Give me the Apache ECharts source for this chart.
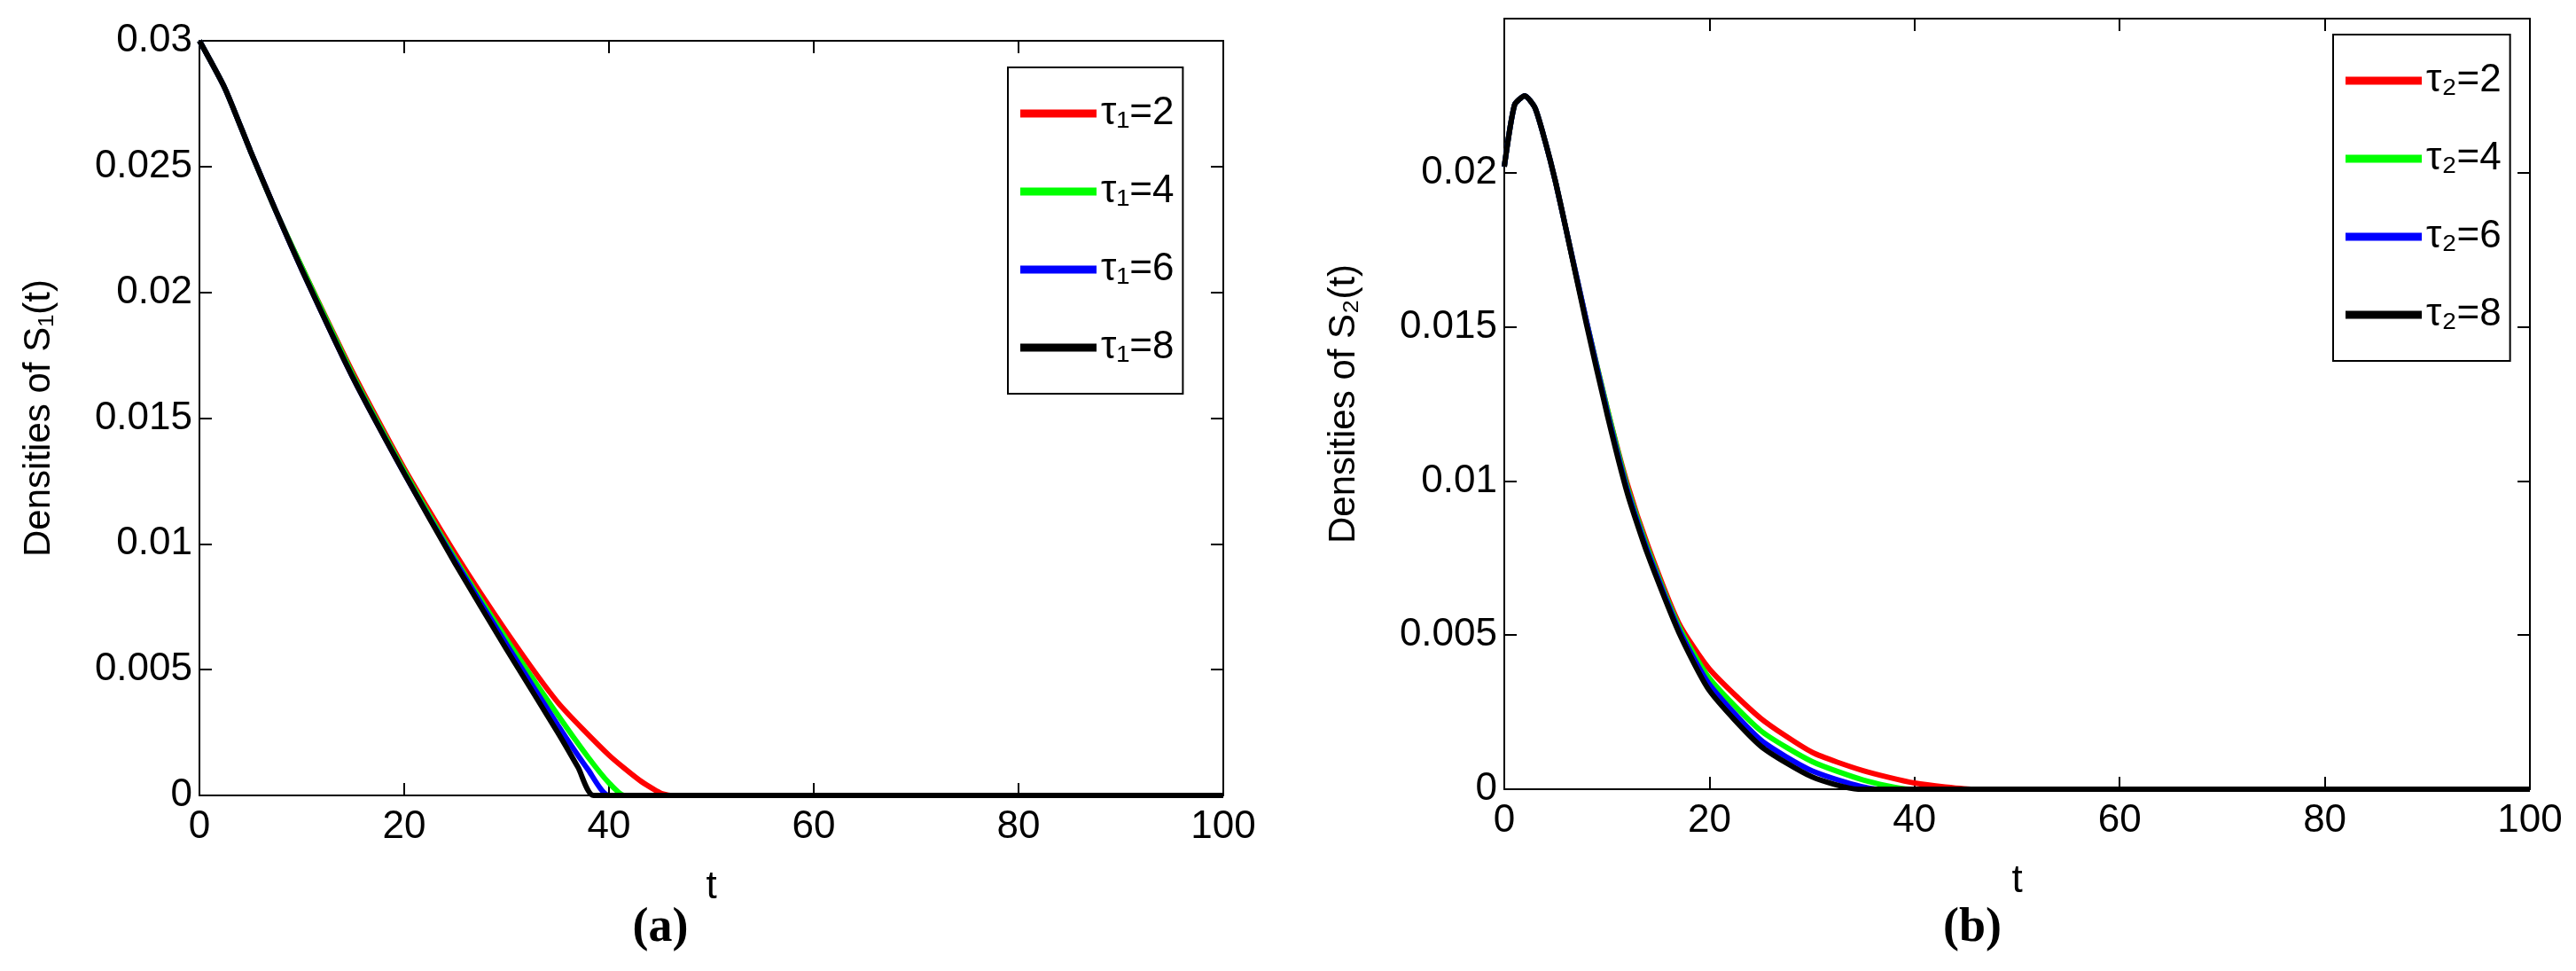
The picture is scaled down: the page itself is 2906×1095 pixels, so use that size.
<!DOCTYPE html>
<html><head><meta charset="utf-8">
<script src="https://cdn.jsdelivr.net/npm/echarts@6/dist/echarts.min.js"></script>
<style>html,body{margin:0;background:#fff}#c{width:2906px;height:1095px}</style>
</head><body><div id="c"></div>
<script>
const colors = ['#ff0000', '#00ff00', '#0000ff', '#000000'];
const namesA = ['τ₁=2', 'τ₁=4', 'τ₁=6', 'τ₁=8'];
const namesB = ['τ₂=2', 'τ₂=4', 'τ₂=6', 'τ₂=8'];

// panel (a): [t, S1]
const a_tau2 = [[0,0.030],[2.5,0.0281],[5,0.0256],[7.5,0.0232],[10,0.0210],[15,0.0168],[20,0.0130],[25,0.0096],[30,0.0065],[35,0.0037],[40,0.0016],[43,0.0006],[45,0.0001],[46,0],[100,0]];
const a_tau4 = [[0,0.030],[2.5,0.0281],[5,0.0256],[7.5,0.0232],[10,0.0210],[15,0.0167],[20,0.0129],[25,0.0094],[30,0.0062],[35,0.0032],[38,0.0015],[40,0.0005],[41.5,0],[100,0]];
const a_tau6 = [[0,0.030],[2.5,0.0281],[5,0.0256],[7.5,0.0232],[10,0.0209],[15,0.0166],[20,0.0128],[25,0.0093],[30,0.0060],[35,0.0028],[38,0.0010],[40,0],[100,0]];
const a_tau8 = [[0,0.030],[2.5,0.0281],[5,0.0256],[7.5,0.0232],[10,0.0209],[15,0.0166],[20,0.0128],[25,0.0092],[30,0.0058],[35,0.0025],[37,0.0011],[38.5,0],[100,0]];

// panel (b): [t, S2]
const b_tau2 = [[0,0.0202],[1,0.0222],[2,0.0225],[3,0.0221],[4,0.0210],[5,0.0197],[6,0.0182],[8,0.0152],[10,0.0124],[12,0.0099],[14,0.0079],[17,0.0054],[20,0.0039],[25,0.0023],[30,0.0012],[35,0.0006],[40,0.0002],[46,0],[100,0]];
const b_tau4 = [[0,0.0202],[1,0.0222],[2,0.0225],[3,0.0221],[4,0.0210],[5,0.0197],[6,0.0182],[8,0.0152],[10,0.0124],[12,0.0098],[14,0.0078],[17,0.0053],[20,0.0036],[25,0.0019],[30,0.0009],[35,0.0003],[39.5,0],[100,0]];
const b_tau6 = [[0,0.0202],[1,0.0222],[2,0.0225],[3,0.0221],[4,0.0210],[5,0.0197],[6,0.0182],[8,0.0152],[10,0.0123],[12,0.0097],[14,0.0077],[17,0.0052],[20,0.0034],[25,0.0016],[30,0.0006],[36.5,0],[100,0]];
const b_tau8 = [[0,0.0202],[1,0.0222],[2,0.0225],[3,0.0221],[4,0.0210],[5,0.0197],[6,0.0182],[8,0.0151],[10,0.0122],[12,0.0096],[14,0.0076],[17,0.0051],[20,0.0032],[25,0.0014],[30,0.0004],[34.5,0],[100,0]];

const font = 'Liberation Sans';
const tickLab = {fontSize: 44, color: '#000', fontFamily: font};
function xAx(grid, pos, labels) {
  return {type: 'value', gridIndex: grid, position: pos, min: 0, max: 100, interval: 20,
    axisLine: {onZero: false, lineStyle: {color: '#000', width: 2}},
    axisTick: {inside: true, length: 14, lineStyle: {color: '#000', width: 2}},
    axisLabel: {show: labels, margin: 14, ...tickLab}, splitLine: {show: false},
    name: labels ? 't' : '', nameLocation: 'middle', nameGap: 82,
    nameTextStyle: {fontSize: 44, fontFamily: font, color: '#000'}};
}
function yAx(grid, pos, max, labels, title) {
  return {type: 'value', gridIndex: grid, position: pos, min: 0, max: max, interval: 0.005,
    axisLine: {onZero: false, lineStyle: {color: '#000', width: 2}},
    axisTick: {inside: true, length: 14, lineStyle: {color: '#000', width: 2}},
    axisLabel: {show: labels, margin: 8, ...tickLab,
      formatter: v => (v > 0.0249 && max < 0.03) ? '' : String(+v.toFixed(3))},
    splitLine: {show: false},
    name: labels ? title : '', nameLocation: 'middle', nameGap: 160,
    nameTextStyle: {fontSize: 42, fontFamily: font, color: '#000'}};
}
function ser(data, i, grid, names) {
  return {type: 'line', name: names[i], data: data, xAxisIndex: grid * 2, yAxisIndex: grid * 2,
    smooth: 0.2, showSymbol: false, z: 10 + i,
    lineStyle: {color: colors[i], width: 6}, itemStyle: {color: colors[i]}};
}
const legendCommon = {orient: 'vertical', itemWidth: 86, itemHeight: 9, itemGap: 44,
  backgroundColor: '#fff', borderColor: '#000', borderWidth: 2, padding: [30, 10, 30, 14],
  textStyle: {fontSize: 44, fontFamily: font, color: '#000'}, icon: 'rect'};

const chart = echarts.init(document.getElementById('c'));
chart.setOption({
  animation: false,
  grid: [{left: 225, top: 46, width: 1155, height: 851},
         {left: 1697, top: 21, width: 1157, height: 869}],
  xAxis: [xAx(0, 'bottom', true), xAx(0, 'top', false), xAx(1, 'bottom', true), xAx(1, 'top', false)],
  yAxis: [yAx(0, 'left', 0.03, true, 'Densities of S₁(t)'), yAx(0, 'right', 0.03, false),
          yAx(1, 'left', 0.025, true, 'Densities of S₂(t)'), yAx(1, 'right', 0.025, false)],
  legend: [{...legendCommon, data: namesA, left: 1137, top: 76},
           {...legendCommon, data: namesB, left: 2632, top: 39}],
  title: [{text: '(a)', left: 740, top: 1015, textAlign: 'center',
           textStyle: {fontSize: 54, fontFamily: 'Liberation Serif', fontWeight: 'bold', color: '#000'}},
          {text: '(b)', left: 2220, top: 1015, textAlign: 'center',
           textStyle: {fontSize: 54, fontFamily: 'Liberation Serif', fontWeight: 'bold', color: '#000'}}],
  series: [ser(a_tau2, 0, 0, namesA), ser(a_tau4, 1, 0, namesA), ser(a_tau6, 2, 0, namesA), ser(a_tau8, 3, 0, namesA),
           ser(b_tau2, 0, 1, namesB), ser(b_tau4, 1, 1, namesB), ser(b_tau6, 2, 1, namesB), ser(b_tau8, 3, 1, namesB)]
});
</script></body></html>
